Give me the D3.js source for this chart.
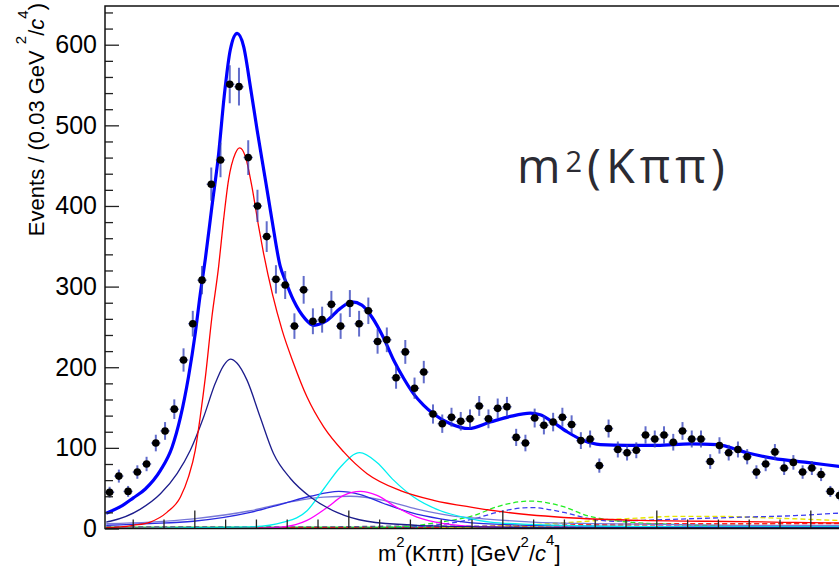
<!DOCTYPE html>
<html>
<head>
<meta charset="utf-8">
<script src="https://cdn.jsdelivr.net/npm/d3@7"></script>
<style>
  body { margin: 0; background: #fff; }
  svg { display: block; font-family: "Liberation Sans", Arial, sans-serif; }
</style>
</head>
<body>
<svg id="chart" width="839" height="572"></svg>
<script>
// binned data: 0.03 GeV^2/c^4 bins starting at 1.21
const binStart = 1.21;
const binWidth = 0.03;
const counts = [45, 65, 46, 70, 80, 106, 121, 148, 209, 254,
  308, 427, 457, 551, 548, 460, 400, 362, 309, 302,
  251, 296, 257, 259, 278, 251, 279, 254, 270, 232,
  234, 187, 219, 174, 194, 142, 130, 138, 133, 136,
  152, 136, 149, 151, 113, 106, 137, 128, 132, 138,
  129, 109, 111, 78, 124, 98, 94, 97, 116, 111,
  116, 107, 121, 111, 111, 83, 103, 94, 98, 89,
  70, 80, 95, 75, 82, 70, 75, 67, 46, 41];

// total fit
const totalX = [1.214, 1.227, 1.260, 1.302, 1.341, 1.390, 1.428, 1.455, 1.481, 1.503, 1.519, 1.536, 1.557, 1.579, 1.597, 1.617, 1.639, 1.660, 1.682, 1.704, 1.731, 1.752, 1.779, 1.795, 1.822, 1.860, 1.887, 1.931, 1.974, 2.012, 2.044, 2.077, 2.115, 2.147, 2.180, 2.212, 2.244, 2.277, 2.331, 2.391, 2.461, 2.526, 2.591, 2.623, 2.656, 2.710, 2.764, 2.818, 2.905, 3.002, 3.110, 3.197, 3.294, 3.381, 3.489, 3.594, 3.700];
const totalY = [19, 21, 27, 38, 49, 72, 101, 138, 188, 242, 290, 335, 399, 465, 536, 594, 614, 598, 548, 494, 432, 383, 325, 308, 283, 260, 252, 258, 273, 281, 277, 262, 236, 209, 186, 167, 153, 142, 130, 124, 132, 139, 143, 141, 134, 120, 109, 104, 103, 103, 105, 104, 94, 87, 82, 77, 72];

// components
const redX = [1.214, 1.260, 1.302, 1.357, 1.411, 1.455, 1.481, 1.503, 1.519, 1.536, 1.557, 1.579, 1.595, 1.611, 1.633, 1.647, 1.666, 1.687, 1.709, 1.725, 1.785, 1.822, 1.866, 1.920, 1.985, 2.061, 2.169, 2.277, 2.407, 2.515, 2.732, 2.948, 3.165, 3.381, 3.594, 3.700];
const redY = [1, 2, 4, 8, 20, 39, 64, 97, 138, 188, 262, 325, 383, 432, 465, 472, 461, 424, 374, 341, 246, 205, 163, 126, 95, 68, 47, 35, 26, 20, 13, 10, 9, 8, 7, 7];

const navyX = [1.214, 1.227, 1.325, 1.390, 1.444, 1.487, 1.530, 1.568, 1.595, 1.617, 1.639, 1.671, 1.714, 1.757, 1.812, 1.877, 1.963, 2.061, 2.223, 2.439, 2.700, 3.000, 3.300, 3.700];
const navyY = [8, 9, 24, 43, 68, 97, 138, 180, 202, 210, 205, 184, 138, 93, 62, 39, 20, 9, 4, 2, 1, 1, 1, 1];

const cyanX = [1.214, 1.500, 1.682, 1.790, 1.866, 1.920, 1.974, 2.037, 2.093, 2.147, 2.212, 2.299, 2.386, 2.461, 2.600, 2.800, 3.100, 3.400, 3.700];
const cyanY = [0, 1, 2, 8, 22, 49, 76, 94, 82, 60, 39, 22, 13, 8, 5, 3, 2, 2, 2];

const magX = [1.214, 1.600, 1.682, 1.790, 1.866, 1.931, 1.985, 2.039, 2.093, 2.158, 2.223, 2.309, 2.439, 2.600, 2.900, 3.300, 3.700];
const magY = [0, 0, 0, 2, 10, 26, 41, 46, 41, 26, 14, 6, 2, 1, 1, 1, 1];

const blueX = [1.214, 1.357, 1.497, 1.682, 1.790, 1.877, 1.969, 2.039, 2.115, 2.201, 2.299, 2.439, 2.600, 2.800, 3.000, 3.300, 3.700];
const blueY = [4, 6, 9, 20, 31, 40, 46, 42, 31, 20, 12, 6, 4, 3, 2, 2, 2];

const lilacX = [1.214, 1.357, 1.497, 1.682, 1.812, 1.920, 2.006, 2.115, 2.223, 2.331, 2.439, 2.600, 2.800, 3.000, 3.300, 3.700];
const lilacY = [6, 8, 12, 22, 33, 39, 40, 35, 24, 16, 12, 8, 6, 5, 4, 4];

const greenDashX = [2.000, 2.200, 2.299, 2.407, 2.483, 2.591, 2.699, 2.775, 2.861, 3.056, 3.300, 3.700];
const greenDashY = [0, 3, 8, 16, 27, 34, 27, 16, 10, 5, 3, 3];

const blueDashX = [2.000, 2.200, 2.299, 2.407, 2.494, 2.591, 2.699, 2.786, 2.861, 2.948, 3.100, 3.273, 3.450, 3.594, 3.700];
const blueDashY = [0, 2, 5, 12, 21, 26, 20, 12, 9, 10, 12, 14, 16, 19, 20];

const yellowDashX = [2.300, 2.500, 2.700, 2.850, 2.948, 3.056, 3.200, 3.300, 3.450, 3.594, 3.700];
const yellowDashY = [1, 3, 7, 11, 13, 15, 15, 14, 12, 10, 9];

const smallX = [1.214, 1.900, 2.200, 2.500, 2.800, 3.100, 3.400, 3.700];
const redDashY = [0, 1, 1, 3, 5, 6, 6, 6];
const orangeDashY = [0, 1, 1, 2, 4, 5, 6, 7];
const magDashY = [0, 1, 1, 2, 3, 3, 3, 3];
const grayDashY = [2, 2, 3, 3, 3, 3, 3, 3];
const greenY = [1, 1, 1, 1, 1, 1, 1, 1];

const yMajor = [0, 100, 200, 300, 400, 500, 600];
const xMajor = [1.5, 2.0, 2.5, 3.0, 3.5];

const components = [
  { x: smallX, y: greenY, color: '#33dd33', width: 2.2 },
  { x: smallX, y: grayDashY, color: '#555588', width: 1.3, dash: '5,3' },
  { x: smallX, y: magDashY, color: '#ff33ff', width: 1.3, dash: '5,3' },
  { x: smallX, y: orangeDashY, color: '#ff9900', width: 1.3, dash: '5,3' },
  { x: smallX, y: redDashY, color: '#ff2222', width: 1.3, dash: '5,3' },
  { x: yellowDashX, y: yellowDashY, color: '#e6e600', width: 1.4, dash: '5,3' },
  { x: blueDashX, y: blueDashY, color: '#3c3cf0', width: 1.3, dash: '5,3' },
  { x: greenDashX, y: greenDashY, color: '#22ee22', width: 1.3, dash: '5,3' },
  { x: lilacX, y: lilacY, color: '#7878d8', width: 1.3 },
  { x: blueX, y: blueY, color: '#2a2ae0', width: 1.3 },
  { x: magX, y: magY, color: '#ff00ff', width: 1.3 },
  { x: cyanX, y: cyanY, color: '#00f0f0', width: 1.3 },
  { x: navyX, y: navyY, color: '#1c1c8c', width: 1.3 },
  { x: redX, y: redY, color: '#ff0000', width: 1.3 }
];

const svg = d3.select('#chart');
const padLeft = 105, padBottom = 528.5, padTop = 6;

const x = d3.scaleLinear().domain([1.21, 3.75]).range([padLeft, padLeft + 2.54 * 308]);
const y = d3.scaleLinear().domain([0, 648]).range([padBottom, padTop]);

svg.append('defs').append('clipPath').attr('id', 'plot')
  .append('rect')
  .attr('x', padLeft).attr('y', padTop)
  .attr('width', x(3.75) - padLeft).attr('height', padBottom - padTop);

const plot = svg.append('g').attr('clip-path', 'url(#plot)');

const line = d3.line()
  .x(d => x(d[0]))
  .y(d => y(d[1]))
  .curve(d3.curveMonotoneX);

// component curves
components.forEach(c => {
  plot.append('path')
    .attr('d', line(d3.zip(c.x, c.y)))
    .attr('fill', 'none')
    .attr('stroke', c.color)
    .attr('stroke-width', c.width)
    .attr('stroke-dasharray', c.dash || null);
});

// total fit
plot.append('path')
  .attr('d', line(d3.zip(totalX, totalY)))
  .attr('fill', 'none')
  .attr('stroke', '#0000ff')
  .attr('stroke-width', 3.2);

// data points with errors
const points = counts.map((n, i) => ({ c: binStart + binWidth * (i + 0.5), n }));
const errColor = 'rgba(45, 60, 185, 0.75)';

const pt = plot.append('g').selectAll('g').data(points).join('g');
pt.append('line')
  .attr('x1', d => x(d.c)).attr('x2', d => x(d.c))
  .attr('y1', d => y(d.n - Math.sqrt(d.n)))
  .attr('y2', d => y(d.n + Math.sqrt(d.n)))
  .attr('stroke', errColor).attr('stroke-width', 2);
pt.append('line')
  .attr('x1', d => x(d.c - binWidth / 2)).attr('x2', d => x(d.c + binWidth / 2))
  .attr('y1', d => y(d.n)).attr('y2', d => y(d.n))
  .attr('stroke', errColor).attr('stroke-width', 1.5);
pt.append('circle')
  .attr('cx', d => x(d.c)).attr('cy', d => y(d.n))
  .attr('r', 3.8)
  .attr('fill', '#000');

// axes (ticks point inward, like ROOT)
const yMinor = d3.range(0, 648, 20).filter(v => v % 100 !== 0);
const xMinor = d3.range(1.3, 3.75, 0.1).filter(v => !xMajor.some(m => Math.abs(m - v) < 1e-6));

const yAxis = svg.append('g').attr('transform', `translate(${padLeft},0)`)
  .call(d3.axisLeft(y).tickValues(yMajor).tickSize(-14).tickPadding(8));
const yAxisMinor = svg.append('g').attr('transform', `translate(${padLeft},0)`)
  .call(d3.axisLeft(y).tickValues(yMinor).tickSize(-8).tickFormat(''));
const xAxis = svg.append('g').attr('transform', `translate(0,${padBottom})`)
  .call(d3.axisBottom(x).tickValues(xMajor).tickSize(-18).tickFormat(''));
const xAxisMinor = svg.append('g').attr('transform', `translate(0,${padBottom})`)
  .call(d3.axisBottom(x).tickValues(xMinor).tickSize(-9).tickFormat(''));

[yAxis, yAxisMinor, xAxis, xAxisMinor].forEach(a => {
  a.select('.domain').remove();
  a.selectAll('line').attr('stroke', '#222').attr('stroke-width', 1.3);
});
yAxis.selectAll('text')
  .attr('font-size', 25)
  .attr('fill', '#000')
  .attr('font-family', '"Liberation Sans", Arial, sans-serif');

// frame
svg.append('path')
  .attr('d', `M${x(3.75)},${padTop}H${padLeft}V${padBottom}H${x(3.75)}`)
  .attr('fill', 'none')
  .attr('stroke', '#111')
  .attr('stroke-width', 1.5);

// y title
const yt = svg.append('text')
  .attr('transform', 'translate(44,3) rotate(-90)')
  .attr('text-anchor', 'end')
  .attr('font-size', 22)
  .attr('fill', '#000');
yt.append('tspan').text('Events / (0.03 GeV ');
yt.append('tspan').attr('dy', -18).attr('font-size', 15).text('2');
yt.append('tspan').attr('dy', 18).text('/');
yt.append('tspan').attr('font-style', 'italic').text('c');
yt.append('tspan').attr('dy', -16).attr('font-size', 15).text('4');
yt.append('tspan').attr('dy', 16).text(')');

// x title
const xt = svg.append('text')
  .attr('x', 378).attr('y', 561)
  .attr('font-size', 22)
  .attr('fill', '#000');
xt.append('tspan').text('m');
xt.append('tspan').attr('dy', -14).attr('font-size', 15).text('2');
xt.append('tspan').attr('dy', 14).text('(Kππ) [GeV');
xt.append('tspan').attr('dy', -14).attr('font-size', 15).text('2');
xt.append('tspan').attr('dy', 14).text('/');
xt.append('tspan').attr('font-style', 'italic').text('c');
xt.append('tspan').attr('dy', -16).attr('font-size', 15).text('4');
xt.append('tspan').attr('dy', 16).text(']');

// panel label
const lab = svg.append('text')
  .attr('x', 517).attr('y', 183)
  .attr('font-family', '"Open Sans", "Noto Sans", sans-serif')
  .attr('font-size', 47)
  .attr('letter-spacing', 5)
  .attr('fill', '#2b2b33');
lab.append('tspan').text('m');
lab.append('tspan').attr('dy', -11).attr('font-size', 29).text('2');
lab.append('tspan').attr('dy', 11).text('(Kππ)');
</script>
</body>
</html>
